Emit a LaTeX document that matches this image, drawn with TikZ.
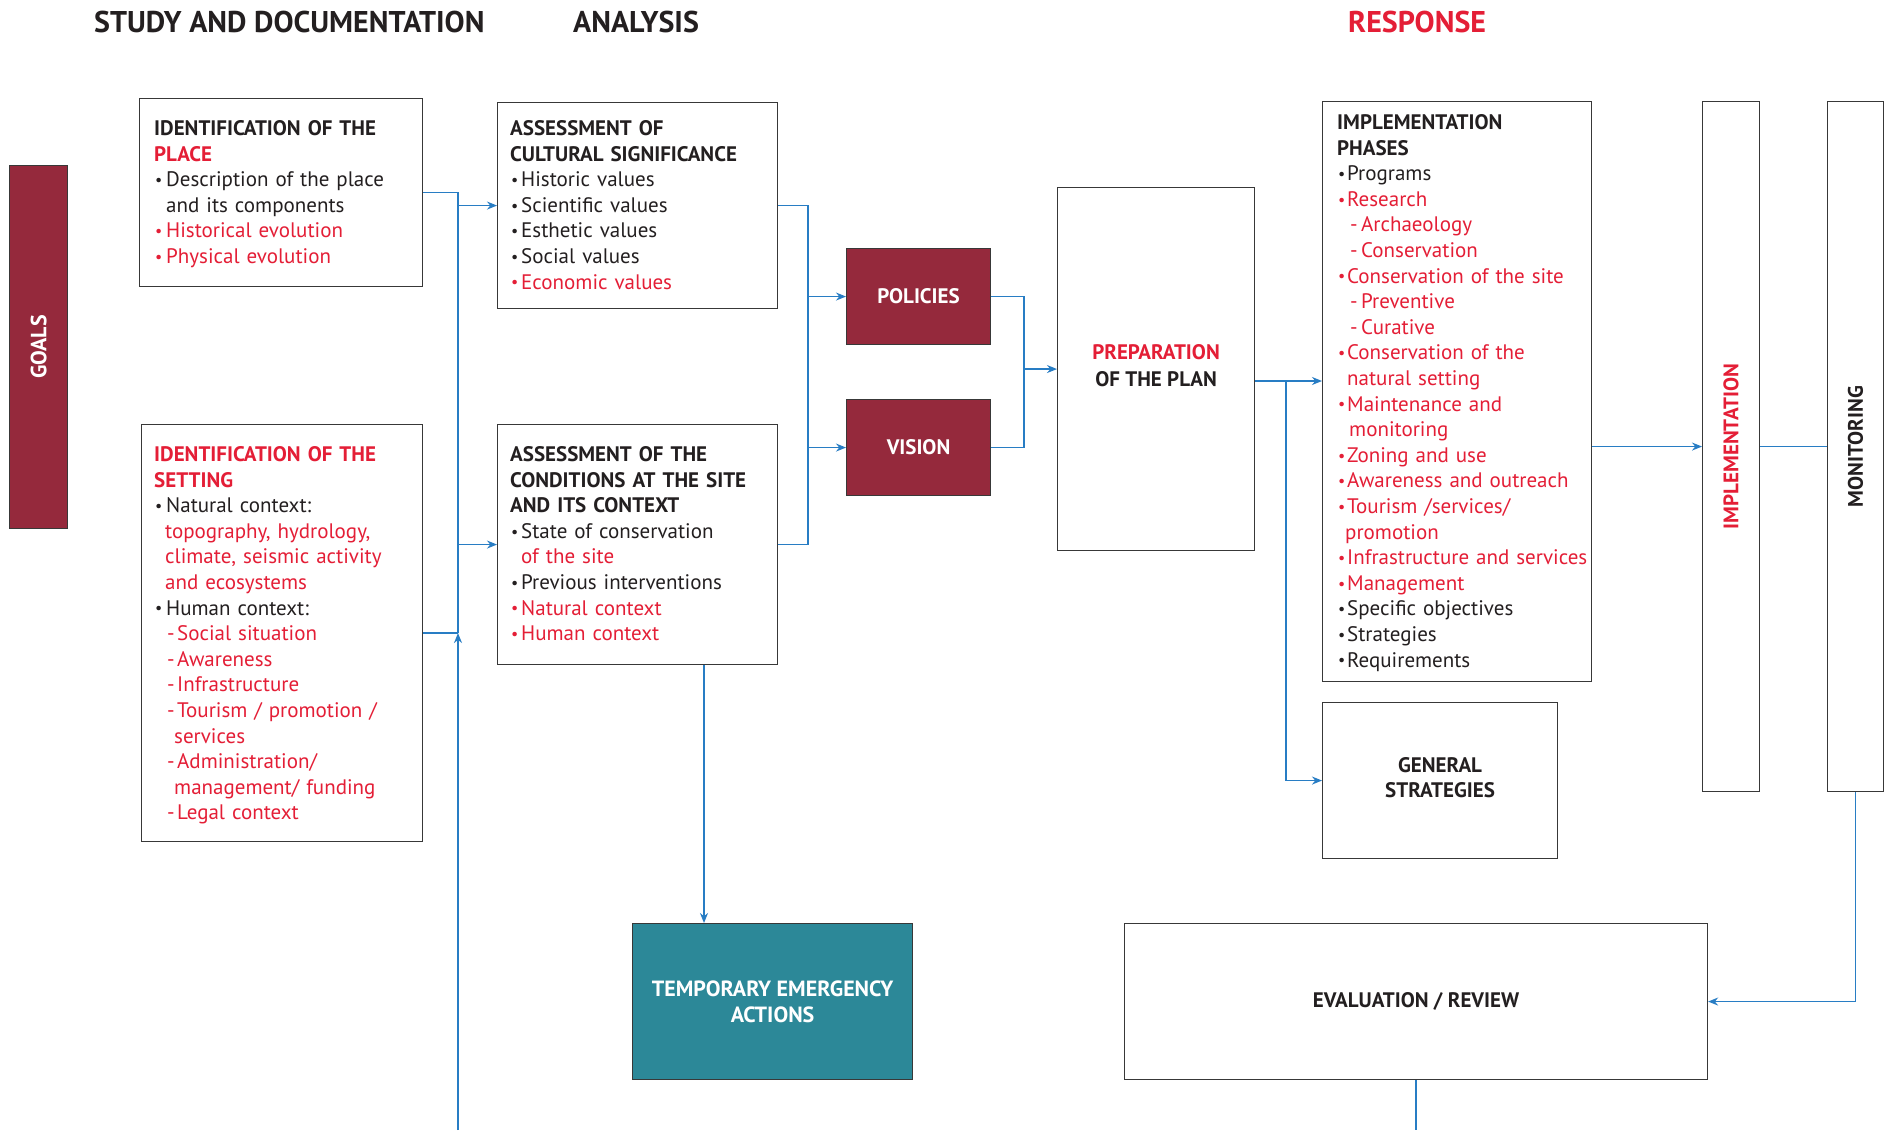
\documentclass[tikz,border=0pt]{standalone}
\usepackage{fontspec}
\setmainfont{PT Sans}
\usetikzlibrary{arrows.meta,calc}
\definecolor{myred}{RGB}{228,30,54}
\definecolor{mymaroon}{RGB}{149,41,60}
\definecolor{myteal}{RGB}{44,136,152}
\definecolor{cblue}{RGB}{40,125,196}
\definecolor{ink}{RGB}{35,31,32}
\newcommand\bu[1][11pt]{\makebox[#1][l]{\hspace*{1pt}\raisebox{1.2pt}{\fontsize{16}{16}\selectfont•}}}
\newcommand\ind[1][11pt]{\hspace*{#1}}
\newcommand\dsh[2][13pt]{\hspace*{#1}\makebox[#2][l]{-}}
\begin{document}
\begin{tikzpicture}[x=1pt,y=-1pt,
  frame/.style={draw=black!78, line width=1.1pt, inner sep=0pt, anchor=north west, minimum width=#1},
  txt/.style={anchor=base west, inner sep=0pt, align=left, text width=#1, font=\fontsize{21}{25.6}\selectfont, text=ink},
  ctr/.style={inner sep=0pt, align=center, font=\fontsize{21}{25.6}\selectfont\bfseries},
  conn/.style={draw=cblue, line width=1.5pt},
  arr/.style={conn, -{Stealth[length=10pt,width=8pt]}},
  ttl/.style={anchor=base west, inner sep=0pt, font=\fontsize{30}{34}\selectfont\bfseries, text=ink}]
\useasboundingbox (0,0) rectangle (1887,1130);
\fill[white] (0,0) rectangle (1887,1130);
% titles
\node[ttl] (t1) at (94,32) {STUDY AND DOCUMENTATION};
\node[ttl] (t2) at (573,32) {ANALYSIS};
\node[ttl, text=myred] (t3) at (1348,32) {RESPONSE};
% boxes
\node[frame=58pt, minimum height=363pt, fill=mymaroon] (goals) at (9,165) {};
\node[rotate=90, ctr, text=white, font=\fontsize{22}{26}\selectfont\bfseries] (goalst) at (goals.center) {GOALS};
\node[frame=283pt, minimum height=188pt] (place) at (139,98) {};
\node[frame=280pt, minimum height=206pt] (cultural) at (497,102) {};
\node[frame=281pt, minimum height=417pt] (setting) at (141,424) {};
\node[frame=280pt, minimum height=240pt] (conditions) at (497,424) {};
\node[frame=144pt, minimum height=96pt, fill=mymaroon] (policies) at (846,248) {};
\node[frame=144pt, minimum height=96pt, fill=mymaroon] (vision) at (846,399) {};
\node[frame=197pt, minimum height=363pt] (prep) at (1057,187) {};
\node[frame=269pt, minimum height=580pt] (implphases) at (1322,101) {};
\node[frame=235pt, minimum height=156pt] (genstrat) at (1322,702) {};
\node[frame=57pt, minimum height=690pt] (implementation) at (1702,101) {};
\node[frame=56pt, minimum height=690pt] (monitoring) at (1827,101) {};
\node[frame=280pt, minimum height=156pt, fill=myteal] (temp) at (632,923) {};
\node[frame=583pt, minimum height=156pt] (eval) at (1124,923) {};
% texts
\node[txt=265pt] (placet) at (154,135.5) {\textbf{IDENTIFICATION OF THE}\\
\textbf{\color{myred}PLACE}\\
\bu[12pt]Description of the place\\
\ind[12pt]and its components\\
{\color{myred}\bu[12pt]Historical evolution}\\
{\color{myred}\bu[12pt]Physical evolution}};
\node[txt=265pt] (settingt) at (154,461.5) {{\color{myred}\bfseries IDENTIFICATION OF THE}\\
{\color{myred}\bfseries SETTING}\\
\bu[12pt]Natural context:\\
{\color{myred}\ind[11pt]topography, hydrology,}\\
{\color{myred}\ind[11pt]climate, seismic activity}\\
{\color{myred}\ind[11pt]and ecosystems}\\
\bu[12pt]Human context:\\
{\color{myred}\dsh{10pt}Social situation}\\
{\color{myred}\dsh{10pt}Awareness}\\
{\color{myred}\dsh{10pt}Infrastructure}\\
{\color{myred}\dsh{10pt}Tourism / promotion /}\\
{\color{myred}\ind[20pt]services}\\
{\color{myred}\dsh{10pt}Administration/}\\
{\color{myred}\ind[20pt]management/ funding}\\
{\color{myred}\dsh{10pt}Legal context}};
\node[txt=265pt] (culturalt) at (510,135.5) {\textbf{ASSESSMENT OF}\\
\textbf{CULTURAL SIGNIFICANCE}\\
\bu Historic values\\
\bu Scientific values\\
\bu Esthetic values\\
\bu Social values\\
{\color{myred}\bu Economic values}};
\node[txt=265pt] (conditionst) at (510,461.5) {\textbf{ASSESSMENT OF THE}\\
\textbf{CONDITIONS AT THE SITE}\\
\textbf{AND ITS CONTEXT}\\
\bu State of conservation\\
{\color{myred}\ind of the site}\\
\bu Previous interventions\\
{\color{myred}\bu Natural context}\\
{\color{myred}\bu Human context}};
\node[txt=260pt] (implphasest) at (1337,129.5) {\textbf{IMPLEMENTATION}\\
\textbf{PHASES}\\
\bu[10pt]Programs\\
{\color{myred}\bu[10pt]Research}\\
{\color{myred}\dsh{11pt}Archaeology}\\
{\color{myred}\dsh{11pt}Conservation}\\
{\color{myred}\bu[10pt]Conservation of the site}\\
{\color{myred}\dsh{11pt}Preventive}\\
{\color{myred}\dsh{11pt}Curative}\\
{\color{myred}\bu[10pt]Conservation of the}\\
{\color{myred}\ind[10pt]natural setting}\\
{\color{myred}\bu[10pt]Maintenance and}\\
{\color{myred}\ind[12pt]monitoring}\\
{\color{myred}\bu[10pt]Zoning and use}\\
{\color{myred}\bu[10pt]Awareness and outreach}\\
{\color{myred}\bu[10pt]Tourism /services/}\\
{\color{myred}\ind[8pt]promotion}\\
{\color{myred}\bu[10pt]Infrastructure and services}\\
{\color{myred}\bu[10pt]Management}\\
\bu[10pt]Specific objectives\\
\bu[10pt]Strategies\\
\bu[10pt]Requirements};
\node[ctr, text=white] (policiest) at (policies.center) {POLICIES};
\node[ctr, text=white] (visiont) at (vision.center) {VISION};
\node[ctr, text=ink, font=\fontsize{21}{27}\selectfont\bfseries] (prept) at ($(prep.center)+(0,-3)$) {\textcolor{myred}{PREPARATION}\\OF THE PLAN};
\node[ctr, text=ink] (genstratt) at ($(genstrat.center)+(0,-3)$) {GENERAL\\STRATEGIES};
\node[ctr, text=white, font=\fontsize{22}{25.6}\selectfont\bfseries] (tempt) at (temp.center) {TEMPORARY EMERGENCY\\ACTIONS};
\node[ctr, text=ink] (evalt) at (eval.center) {EVALUATION / REVIEW};
\node[rotate=90, ctr, text=myred] (implementationt) at (implementation.center) {IMPLEMENTATION};
\node[rotate=90, ctr, text=ink] (monitoringt) at (monitoring.center) {MONITORING};
% connectors
\coordinate (sp) at (458,0);
\coordinate (spb) at (458,1130);
\draw[conn] (place.east) -- (place.east -| sp) -- (setting.east -| sp);
\draw[conn] (setting.east) -- (setting.east -| sp);
\draw[arr] (cultural.west -| sp) -- (cultural.west);
\draw[arr] (conditions.west -| sp) -- (conditions.west);
\draw[arr] (spb) -- (setting.east -| sp);
\coordinate (c2) at (808,0);
\draw[conn] (cultural.east) -- (cultural.east -| c2) -- (conditions.east -| c2) -- (conditions.east);
\draw[arr] (policies.west -| c2) -- (policies.west);
\draw[arr] (vision.west -| c2) -- (vision.west);
\coordinate (c3) at (1024,0);
\draw[conn] (policies.east) -- (policies.east -| c3) -- (vision.east -| c3) -- (vision.east);
\draw[arr] (prep.west -| c3) -- (prep.west);
\coordinate (c4) at (1286,381);
\draw[arr] (prep.east |- c4) -- (implphases.west |- c4);
\draw[arr] (c4) -- (c4 |- genstrat.west) -- (genstrat.west);
\draw[arr] (implphases.east |- implementation.west) -- (implementation.west);
\draw[conn] (implementation.east) -- (monitoring.west);
\draw[arr] (monitoring.south) -- (monitoring.south |- eval.east) -- (eval.east);
\coordinate (eb) at (1414,1130);
\draw[conn] (eval.south) -- (eval.south |- eb);
\coordinate (c6) at (704,0);
\draw[arr] (conditions.south -| c6) -- (temp.north -| c6);
\end{tikzpicture}
\end{document}
